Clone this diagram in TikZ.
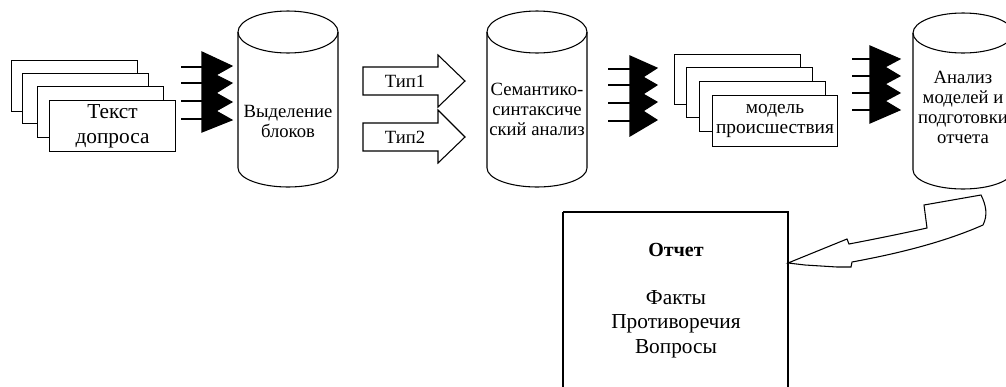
\documentclass[tikz,border=0pt]{standalone}
\usepackage{fontspec}
\setmainfont{Liberation Serif}
\usepackage{tikz}

\begin{document}
\begin{tikzpicture}[x=0.75pt,y=0.75pt,yscale=-1,xscale=1,line width=0.8pt,
  page/.style={draw,fill=white,minimum width=94pt,minimum height=38pt,inner sep=0pt,align=center},
  lbl/.style={inner sep=0.75pt,align=center,font=\fontsize{14}{15}\selectfont}]
\useasboundingbox (0,0) rectangle (1006,386);
%Shape: Pages (question)
\draw (74.5,86) node (q1) [page] {};
\draw (85.5,98.5) node (q2) [page] {};
\draw (100.5,112) node (q3) [page] {};
\draw (112.5,126) node (q4) [page,font=\fontsize{16}{19}\selectfont] {Текст\\допроса};
%Straight Lines
\draw (181,67) -- (202,67) ;
\draw (181,83) -- (202,83) ;
\draw (181,101) -- (202,101) ;
\draw (181,119) -- (202,119) ;
%Shape: Black arrows
\draw [fill=black] (202,52) -- (232,66) -- (216,75) -- (232,83) -- (216,93) -- (232,102) -- (216,111) -- (232,120) -- (202,132) -- cycle ;
%Shape: Can
\draw (288,32) ellipse (50 and 21) ;
\draw (238,32) -- (238,168) .. controls (238,178.5) and (260.4,187) .. (288,187) .. controls (315.6,187) and (338,178.5) .. (338,168) -- (338,32) ;
%Shape: Right Arrow
\draw (363,67) -- (438,67) -- (438,55) -- (465,81) -- (438,107) -- (438,95) -- (363,95) -- cycle ;
%Shape: Right Arrow
\draw (363,123) -- (438,123) -- (438,110) -- (465,137) -- (438,163) -- (438,151) -- (363,151) -- cycle ;
%Shape: Can
\draw (537,32) ellipse (50 and 21) ;
\draw (487,32) -- (487,168) .. controls (487,178.5) and (509.4,187) .. (537,187) .. controls (564.6,187) and (587,178.5) .. (587,168) -- (587,32) ;
%Straight Lines
\draw (608,69) -- (630,69) ;
\draw (608,85) -- (630,85) ;
\draw (608,103) -- (630,103) ;
\draw (608,121) -- (630,121) ;
%Shape: Black arrows
\draw [fill=black] (630,56) -- (657,68) -- (643,77) -- (657,85) -- (643,94) -- (657,102) -- (643,111) -- (657,120) -- (630,136) -- cycle ;
%Shape: Pages (model)
\draw (737.5,79.5) node (m1) [page] {};
\draw (749.5,92.5) node (m2) [page] {};
\draw (762.5,106.5) node (m3) [page] {};
\draw (775,121) node (m4) [page,font=\fontsize{14.5}{15}\selectfont] {модель\\происшествия};
%Straight Lines
\draw (852,59) -- (870,59) ;
\draw (852,76) -- (870,76) ;
\draw (852,93) -- (870,93) ;
\draw (852,110) -- (870,110) ;
%Shape: Black arrows
\draw [fill=black] (870,46) -- (900,59) -- (885,67) -- (900,76) -- (885,84) -- (900,93) -- (885,101) -- (900,110) -- (870,123) -- cycle ;
%Shape: Can
\draw (963,33) ellipse (50 and 20) ;
\draw (913,33) -- (913,170) .. controls (913,180.5) and (935.4,189) .. (963,189) .. controls (990.6,189) and (1013,180.5) .. (1013,170) -- (1013,33) ;
%Shape: Rectangle
\draw (563,212) -- (788,212) -- (788,400) ;
\draw (563,212) -- (563,400) ;
%Shape: Curved Left Arrow
\draw (788,263) -- (847,239) -- (849,244) .. controls (875,239) and (900,234) .. (927,228) -- (924,205) -- (981,195) .. controls (986,205) and (988,215) .. (983,225) .. controls (940,244) and (890,255) .. (852,262) -- (851,267) -- (837,267) -- (805,265) -- cycle ;

% Text Node
\draw (288,121) node (sel) [lbl] {Выделение\\блоков};
% Text Node
\draw (405,81) node (t1) [lbl] {Тип1};
% Text Node
\draw (405,137) node (t2) [lbl] {Тип2};
% Text Node
\draw (537,109) node (sem) [lbl] {Семантико-\\синтаксиче\\ский анализ};
% Text Node
\draw (963,107) node (an) [lbl] {Анализ\\моделей и\\подготовки\\отчета};
% Text Node
\draw (676,250) node (rt) [inner sep=0.75pt,font=\fontsize{15}{18}\selectfont\bfseries] {Отчет};
% Text Node
\draw (676,324) node (rl) [inner sep=0.75pt,align=center,font=\fontsize{16}{18.5}\selectfont] {Факты\\Противоречия\\Вопросы};
\end{tikzpicture}
\end{document}
